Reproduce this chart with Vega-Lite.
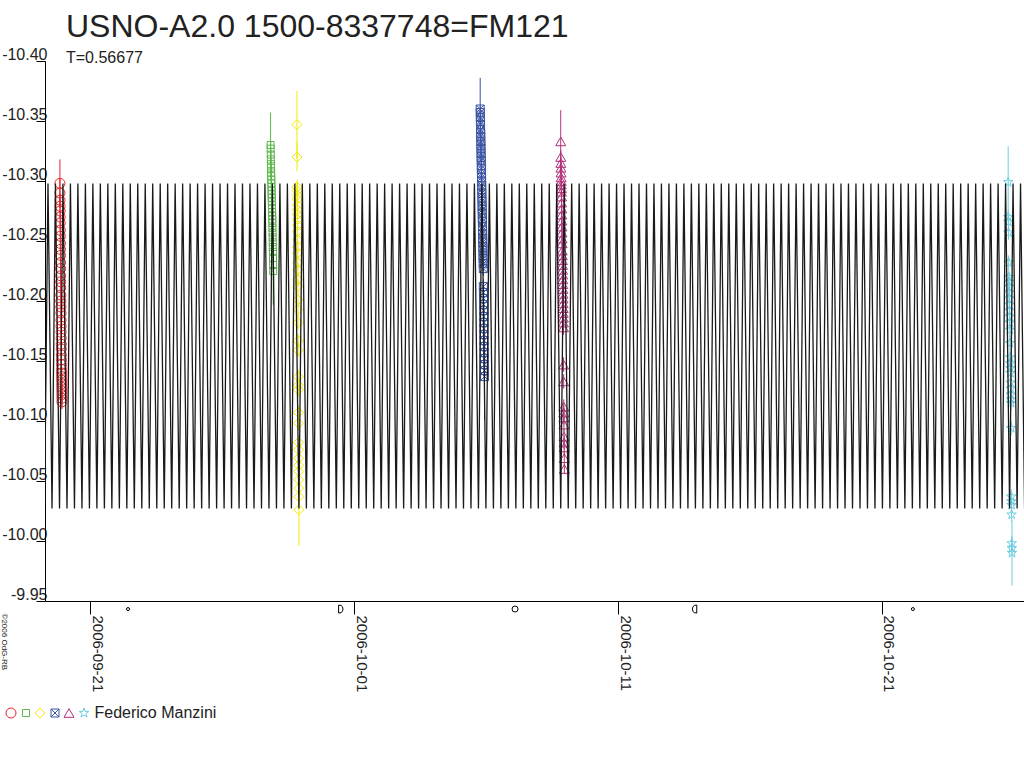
{
  "$schema": "https://vega.github.io/schema/vega-lite/v6.json",
  "width": 979,
  "height": 540,
  "autosize": {"type": "none"},
  "padding": {"left": 45, "top": 61, "right": 0, "bottom": 167},
  "background": "white",
  "title": {
    "text": "USNO-A2.0 1500-8337748=FM121",
    "subtitle": "T=0.56677",
    "anchor": "start",
    "frame": "group",
    "dx": 21,
    "offset": -21,
    "fontSize": 32,
    "fontWeight": "normal",
    "font": "Liberation Sans",
    "color": "#222",
    "subtitleFontSize": 16,
    "subtitleFont": "Liberation Sans",
    "subtitleColor": "#222",
    "subtitlePadding": 6
  },
  "datasets": {
    "obs": [
      {"s":"a","t":-1.640,"m":-10.298,"e":0.020},{"s":"a","t":-1.638,"m":-10.290,"e":0.012},{"s":"a","t":-1.636,"m":-10.284,"e":0.006},{"s":"a","t":-1.634,"m":-10.279,"e":0.006},
      {"s":"a","t":-1.632,"m":-10.275,"e":0.006},{"s":"a","t":-1.630,"m":-10.270,"e":0.006},{"s":"a","t":-1.628,"m":-10.265,"e":0.006},{"s":"a","t":-1.626,"m":-10.259,"e":0.006},
      {"s":"a","t":-1.624,"m":-10.254,"e":0.006},{"s":"a","t":-1.622,"m":-10.248,"e":0.006},{"s":"a","t":-1.620,"m":-10.243,"e":0.006},{"s":"a","t":-1.618,"m":-10.238,"e":0.006},
      {"s":"a","t":-1.616,"m":-10.232,"e":0.006},{"s":"a","t":-1.614,"m":-10.227,"e":0.006},{"s":"a","t":-1.612,"m":-10.221,"e":0.006},{"s":"a","t":-1.610,"m":-10.216,"e":0.006},
      {"s":"a","t":-1.608,"m":-10.211,"e":0.006},{"s":"a","t":-1.606,"m":-10.205,"e":0.006},{"s":"a","t":-1.604,"m":-10.200,"e":0.006},{"s":"a","t":-1.602,"m":-10.195,"e":0.006},
      {"s":"a","t":-1.600,"m":-10.190,"e":0.006},{"s":"a","t":-1.598,"m":-10.184,"e":0.006},{"s":"a","t":-1.596,"m":-10.179,"e":0.006},{"s":"a","t":-1.594,"m":-10.174,"e":0.006},
      {"s":"a","t":-1.592,"m":-10.169,"e":0.006},{"s":"a","t":-1.590,"m":-10.164,"e":0.006},{"s":"a","t":-1.588,"m":-10.160,"e":0.006},{"s":"a","t":-1.586,"m":-10.155,"e":0.006},
      {"s":"a","t":-1.584,"m":-10.151,"e":0.006},{"s":"a","t":-1.582,"m":-10.147,"e":0.006},{"s":"a","t":-1.580,"m":-10.143,"e":0.006},{"s":"a","t":-1.578,"m":-10.140,"e":0.006},
      {"s":"a","t":-1.576,"m":-10.137,"e":0.006},{"s":"a","t":-1.574,"m":-10.134,"e":0.006},{"s":"a","t":-1.572,"m":-10.131,"e":0.006},{"s":"a","t":-1.570,"m":-10.128,"e":0.006},
      {"s":"a","t":-1.568,"m":-10.125,"e":0.006},{"s":"a","t":-1.566,"m":-10.122,"e":0.006},{"s":"a","t":-1.564,"m":-10.119,"e":0.006},{"s":"a","t":-1.562,"m":-10.116,"e":0.006},

      {"s":"b","t":6.340,"m":-10.330,"e":0.027},{"s":"b","t":6.343,"m":-10.327,"e":0.006},{"s":"b","t":6.347,"m":-10.322,"e":0.006},{"s":"b","t":6.350,"m":-10.318,"e":0.006},
      {"s":"b","t":6.354,"m":-10.314,"e":0.006},{"s":"b","t":6.357,"m":-10.311,"e":0.006},{"s":"b","t":6.360,"m":-10.307,"e":0.006},{"s":"b","t":6.364,"m":-10.304,"e":0.006},
      {"s":"b","t":6.367,"m":-10.301,"e":0.006},{"s":"b","t":6.371,"m":-10.298,"e":0.006},{"s":"b","t":6.374,"m":-10.295,"e":0.006},{"s":"b","t":6.377,"m":-10.292,"e":0.006},
      {"s":"b","t":6.381,"m":-10.289,"e":0.006},{"s":"b","t":6.384,"m":-10.286,"e":0.006},{"s":"b","t":6.388,"m":-10.283,"e":0.006},{"s":"b","t":6.391,"m":-10.280,"e":0.006},
      {"s":"b","t":6.394,"m":-10.277,"e":0.006},{"s":"b","t":6.398,"m":-10.274,"e":0.006},{"s":"b","t":6.401,"m":-10.271,"e":0.006},{"s":"b","t":6.405,"m":-10.268,"e":0.006},
      {"s":"b","t":6.408,"m":-10.265,"e":0.006},{"s":"b","t":6.411,"m":-10.261,"e":0.006},{"s":"b","t":6.415,"m":-10.257,"e":0.006},{"s":"b","t":6.418,"m":-10.253,"e":0.006},
      {"s":"b","t":6.422,"m":-10.249,"e":0.006},{"s":"b","t":6.425,"m":-10.245,"e":0.006},{"s":"b","t":6.428,"m":-10.241,"e":0.006},{"s":"b","t":6.432,"m":-10.236,"e":0.006},
      {"s":"b","t":6.435,"m":-10.230,"e":0.006},{"s":"b","t":6.439,"m":-10.225,"e":0.028},

      {"s":"c","t":7.340,"m":-10.347,"e":0.028},{"s":"c","t":7.342,"m":-10.320,"e":0.012},{"s":"c","t":7.344,"m":-10.295,"e":0.006},{"s":"c","t":7.346,"m":-10.292,"e":0.006},
      {"s":"c","t":7.348,"m":-10.288,"e":0.006},{"s":"c","t":7.350,"m":-10.285,"e":0.006},{"s":"c","t":7.352,"m":-10.280,"e":0.006},{"s":"c","t":7.354,"m":-10.276,"e":0.006},
      {"s":"c","t":7.356,"m":-10.272,"e":0.006},{"s":"c","t":7.358,"m":-10.268,"e":0.006},{"s":"c","t":7.360,"m":-10.263,"e":0.006},{"s":"c","t":7.362,"m":-10.258,"e":0.006},
      {"s":"c","t":7.364,"m":-10.251,"e":0.006},{"s":"c","t":7.366,"m":-10.245,"e":0.006},{"s":"c","t":7.368,"m":-10.240,"e":0.006},{"s":"c","t":7.370,"m":-10.232,"e":0.006},
      {"s":"c","t":7.372,"m":-10.226,"e":0.006},{"s":"c","t":7.374,"m":-10.218,"e":0.006},{"s":"c","t":7.376,"m":-10.212,"e":0.006},{"s":"c","t":7.378,"m":-10.201,"e":0.006},
      {"s":"c","t":7.380,"m":-10.193,"e":0.006},{"s":"c","t":7.382,"m":-10.182,"e":0.006},{"s":"c","t":7.384,"m":-10.167,"e":0.006},{"s":"c","t":7.386,"m":-10.159,"e":0.006},
      {"s":"c","t":7.388,"m":-10.137,"e":0.006},{"s":"c","t":7.390,"m":-10.130,"e":0.006},{"s":"c","t":7.392,"m":-10.126,"e":0.006},{"s":"c","t":7.394,"m":-10.107,"e":0.006},
      {"s":"c","t":7.396,"m":-10.098,"e":0.006},{"s":"c","t":7.398,"m":-10.082,"e":0.006},{"s":"c","t":7.400,"m":-10.076,"e":0.006},{"s":"c","t":7.402,"m":-10.069,"e":0.006},
      {"s":"c","t":7.404,"m":-10.063,"e":0.006},{"s":"c","t":7.406,"m":-10.058,"e":0.006},{"s":"c","t":7.408,"m":-10.051,"e":0.006},{"s":"c","t":7.410,"m":-10.044,"e":0.006},
      {"s":"c","t":7.412,"m":-10.037,"e":0.006},{"s":"c","t":7.414,"m":-10.026,"e":0.030},

      {"s":"d","t":14.280,"m":-10.360,"e":0.026},{"s":"d","t":14.283,"m":-10.357,"e":0.006},{"s":"d","t":14.286,"m":-10.353,"e":0.006},{"s":"d","t":14.289,"m":-10.350,"e":0.006},
      {"s":"d","t":14.292,"m":-10.347,"e":0.006},{"s":"d","t":14.295,"m":-10.343,"e":0.006},{"s":"d","t":14.298,"m":-10.340,"e":0.006},{"s":"d","t":14.301,"m":-10.337,"e":0.006},
      {"s":"d","t":14.304,"m":-10.333,"e":0.006},{"s":"d","t":14.307,"m":-10.330,"e":0.006},{"s":"d","t":14.310,"m":-10.327,"e":0.006},{"s":"d","t":14.313,"m":-10.323,"e":0.006},
      {"s":"d","t":14.316,"m":-10.320,"e":0.006},{"s":"d","t":14.319,"m":-10.317,"e":0.006},{"s":"d","t":14.322,"m":-10.313,"e":0.006},{"s":"d","t":14.325,"m":-10.310,"e":0.006},
      {"s":"d","t":14.328,"m":-10.306,"e":0.006},{"s":"d","t":14.331,"m":-10.303,"e":0.006},{"s":"d","t":14.334,"m":-10.300,"e":0.006},{"s":"d","t":14.337,"m":-10.296,"e":0.006},
      {"s":"d","t":14.340,"m":-10.293,"e":0.006},{"s":"d","t":14.343,"m":-10.290,"e":0.006},{"s":"d","t":14.346,"m":-10.286,"e":0.006},{"s":"d","t":14.349,"m":-10.283,"e":0.006},
      {"s":"d","t":14.352,"m":-10.279,"e":0.006},{"s":"d","t":14.355,"m":-10.276,"e":0.006},{"s":"d","t":14.358,"m":-10.273,"e":0.006},{"s":"d","t":14.361,"m":-10.269,"e":0.006},
      {"s":"d","t":14.364,"m":-10.266,"e":0.006},{"s":"d","t":14.367,"m":-10.262,"e":0.006},{"s":"d","t":14.370,"m":-10.259,"e":0.006},{"s":"d","t":14.373,"m":-10.256,"e":0.006},
      {"s":"d","t":14.376,"m":-10.252,"e":0.006},{"s":"d","t":14.379,"m":-10.249,"e":0.006},{"s":"d","t":14.382,"m":-10.245,"e":0.006},{"s":"d","t":14.385,"m":-10.242,"e":0.006},
      {"s":"d","t":14.388,"m":-10.238,"e":0.006},{"s":"d","t":14.391,"m":-10.235,"e":0.006},{"s":"d","t":14.394,"m":-10.231,"e":0.006},{"s":"d","t":14.397,"m":-10.227,"e":0.006},
      {"s":"d","t":14.400,"m":-10.212,"e":0.006},{"s":"d","t":14.403,"m":-10.207,"e":0.006},{"s":"d","t":14.406,"m":-10.202,"e":0.006},{"s":"d","t":14.409,"m":-10.197,"e":0.006},
      {"s":"d","t":14.412,"m":-10.192,"e":0.006},{"s":"d","t":14.415,"m":-10.187,"e":0.006},{"s":"d","t":14.418,"m":-10.182,"e":0.006},{"s":"d","t":14.421,"m":-10.177,"e":0.006},
      {"s":"d","t":14.424,"m":-10.172,"e":0.006},{"s":"d","t":14.427,"m":-10.167,"e":0.006},{"s":"d","t":14.430,"m":-10.162,"e":0.006},{"s":"d","t":14.433,"m":-10.157,"e":0.006},
      {"s":"d","t":14.436,"m":-10.152,"e":0.006},{"s":"d","t":14.439,"m":-10.147,"e":0.006},{"s":"d","t":14.442,"m":-10.142,"e":0.006},{"s":"d","t":14.445,"m":-10.137,"e":0.036},

      {"s":"e","t":17.330,"m":-10.333,"e":0.026},{"s":"e","t":17.333,"m":-10.320,"e":0.006},{"s":"e","t":17.336,"m":-10.315,"e":0.006},{"s":"e","t":17.339,"m":-10.311,"e":0.006},
      {"s":"e","t":17.342,"m":-10.307,"e":0.006},{"s":"e","t":17.345,"m":-10.303,"e":0.006},{"s":"e","t":17.348,"m":-10.300,"e":0.006},{"s":"e","t":17.351,"m":-10.297,"e":0.006},
      {"s":"e","t":17.354,"m":-10.294,"e":0.006},{"s":"e","t":17.357,"m":-10.291,"e":0.006},{"s":"e","t":17.360,"m":-10.287,"e":0.006},{"s":"e","t":17.363,"m":-10.282,"e":0.006},
      {"s":"e","t":17.366,"m":-10.277,"e":0.006},{"s":"e","t":17.369,"m":-10.272,"e":0.006},{"s":"e","t":17.372,"m":-10.267,"e":0.006},{"s":"e","t":17.375,"m":-10.262,"e":0.006},
      {"s":"e","t":17.378,"m":-10.257,"e":0.006},{"s":"e","t":17.381,"m":-10.252,"e":0.006},{"s":"e","t":17.384,"m":-10.248,"e":0.006},{"s":"e","t":17.387,"m":-10.242,"e":0.006},
      {"s":"e","t":17.390,"m":-10.238,"e":0.006},{"s":"e","t":17.393,"m":-10.234,"e":0.006},{"s":"e","t":17.396,"m":-10.230,"e":0.006},{"s":"e","t":17.399,"m":-10.226,"e":0.006},
      {"s":"e","t":17.402,"m":-10.222,"e":0.006},{"s":"e","t":17.405,"m":-10.218,"e":0.006},{"s":"e","t":17.408,"m":-10.214,"e":0.006},{"s":"e","t":17.411,"m":-10.210,"e":0.006},
      {"s":"e","t":17.414,"m":-10.206,"e":0.006},{"s":"e","t":17.417,"m":-10.202,"e":0.006},{"s":"e","t":17.420,"m":-10.198,"e":0.006},{"s":"e","t":17.423,"m":-10.194,"e":0.006},
      {"s":"e","t":17.426,"m":-10.190,"e":0.006},{"s":"e","t":17.429,"m":-10.186,"e":0.006},{"s":"e","t":17.432,"m":-10.182,"e":0.006},{"s":"e","t":17.435,"m":-10.178,"e":0.006},
      {"s":"e","t":17.438,"m":-10.147,"e":0.006},{"s":"e","t":17.441,"m":-10.133,"e":0.006},{"s":"e","t":17.444,"m":-10.112,"e":0.006},{"s":"e","t":17.447,"m":-10.107,"e":0.006},
      {"s":"e","t":17.450,"m":-10.103,"e":0.006},{"s":"e","t":17.453,"m":-10.097,"e":0.006},{"s":"e","t":17.456,"m":-10.087,"e":0.006},{"s":"e","t":17.459,"m":-10.082,"e":0.006},
      {"s":"e","t":17.462,"m":-10.078,"e":0.006},{"s":"e","t":17.465,"m":-10.069,"e":0.006},{"s":"e","t":17.468,"m":-10.060,"e":0.004},

      {"s":"f","t":34.280,"m":-10.299,"e":0.030},{"s":"f","t":34.284,"m":-10.270,"e":0.006},{"s":"f","t":34.289,"m":-10.266,"e":0.006},{"s":"f","t":34.293,"m":-10.257,"e":0.006},
      {"s":"f","t":34.298,"m":-10.232,"e":0.006},{"s":"f","t":34.302,"m":-10.220,"e":0.006},{"s":"f","t":34.307,"m":-10.216,"e":0.006},{"s":"f","t":34.311,"m":-10.212,"e":0.006},
      {"s":"f","t":34.316,"m":-10.207,"e":0.006},{"s":"f","t":34.320,"m":-10.202,"e":0.006},{"s":"f","t":34.325,"m":-10.197,"e":0.006},{"s":"f","t":34.329,"m":-10.192,"e":0.006},
      {"s":"f","t":34.334,"m":-10.187,"e":0.006},{"s":"f","t":34.338,"m":-10.182,"e":0.006},{"s":"f","t":34.343,"m":-10.176,"e":0.006},{"s":"f","t":34.347,"m":-10.165,"e":0.006},
      {"s":"f","t":34.352,"m":-10.153,"e":0.006},{"s":"f","t":34.356,"m":-10.148,"e":0.006},{"s":"f","t":34.361,"m":-10.144,"e":0.006},{"s":"f","t":34.365,"m":-10.140,"e":0.006},
      {"s":"f","t":34.370,"m":-10.132,"e":0.006},{"s":"f","t":34.374,"m":-10.127,"e":0.006},{"s":"f","t":34.379,"m":-10.122,"e":0.006},{"s":"f","t":34.383,"m":-10.118,"e":0.006},
      {"s":"f","t":34.388,"m":-10.115,"e":0.006},{"s":"f","t":34.392,"m":-10.094,"e":0.006},{"s":"f","t":34.397,"m":-10.037,"e":0.006},{"s":"f","t":34.401,"m":-10.033,"e":0.006},
      {"s":"f","t":34.406,"m":-10.030,"e":0.006},{"s":"f","t":34.410,"m":-10.022,"e":0.006},{"s":"f","t":34.415,"m":-9.998,"e":0.006},{"s":"f","t":34.419,"m":-9.994,"e":0.006},
      {"s":"f","t":34.424,"m":-9.990,"e":0.027}
    ],
    "model": [
      {"t":-2.222,"m":-10.027},{"t":-2.092,"m":-10.298},{"t":-1.939,"m":-10.027},{"t":-1.809,"m":-10.298},
      {"t":-1.655,"m":-10.027},{"t":-1.525,"m":-10.298},{"t":-1.372,"m":-10.027},{"t":-1.242,"m":-10.298},
      {"t":-1.089,"m":-10.027},{"t":-0.959,"m":-10.298},{"t":-0.805,"m":-10.027},{"t":-0.675,"m":-10.298},
      {"t":-0.522,"m":-10.027},{"t":-0.392,"m":-10.298},{"t":-0.239,"m":-10.027},{"t":-0.109,"m":-10.298},
      {"t":0.045,"m":-10.027},{"t":0.175,"m":-10.298},{"t":0.328,"m":-10.027},{"t":0.458,"m":-10.298},
      {"t":0.612,"m":-10.027},{"t":0.742,"m":-10.298},{"t":0.895,"m":-10.027},{"t":1.025,"m":-10.298},
      {"t":1.178,"m":-10.027},{"t":1.308,"m":-10.298},{"t":1.462,"m":-10.027},{"t":1.592,"m":-10.298},
      {"t":1.745,"m":-10.027},{"t":1.875,"m":-10.298},{"t":2.029,"m":-10.027},{"t":2.159,"m":-10.298},
      {"t":2.312,"m":-10.027},{"t":2.442,"m":-10.298},{"t":2.595,"m":-10.027},{"t":2.725,"m":-10.298},
      {"t":2.879,"m":-10.027},{"t":3.009,"m":-10.298},{"t":3.162,"m":-10.027},{"t":3.292,"m":-10.298},
      {"t":3.445,"m":-10.027},{"t":3.575,"m":-10.298},{"t":3.729,"m":-10.027},{"t":3.859,"m":-10.298},
      {"t":4.012,"m":-10.027},{"t":4.142,"m":-10.298},{"t":4.296,"m":-10.027},{"t":4.426,"m":-10.298},
      {"t":4.579,"m":-10.027},{"t":4.709,"m":-10.298},{"t":4.862,"m":-10.027},{"t":4.992,"m":-10.298},
      {"t":5.146,"m":-10.027},{"t":5.276,"m":-10.298},{"t":5.429,"m":-10.027},{"t":5.559,"m":-10.298},
      {"t":5.713,"m":-10.027},{"t":5.843,"m":-10.298},{"t":5.996,"m":-10.027},{"t":6.126,"m":-10.298},
      {"t":6.279,"m":-10.027},{"t":6.409,"m":-10.298},{"t":6.563,"m":-10.027},{"t":6.693,"m":-10.298},
      {"t":6.846,"m":-10.027},{"t":6.976,"m":-10.298},{"t":7.129,"m":-10.027},{"t":7.259,"m":-10.298},
      {"t":7.413,"m":-10.027},{"t":7.543,"m":-10.298},{"t":7.696,"m":-10.027},{"t":7.826,"m":-10.298},
      {"t":7.980,"m":-10.027},{"t":8.110,"m":-10.298},{"t":8.263,"m":-10.027},{"t":8.393,"m":-10.298},
      {"t":8.546,"m":-10.027},{"t":8.676,"m":-10.298},{"t":8.830,"m":-10.027},{"t":8.960,"m":-10.298},
      {"t":9.113,"m":-10.027},{"t":9.243,"m":-10.298},{"t":9.397,"m":-10.027},{"t":9.527,"m":-10.298},
      {"t":9.680,"m":-10.027},{"t":9.810,"m":-10.298},{"t":9.963,"m":-10.027},{"t":10.093,"m":-10.298},
      {"t":10.247,"m":-10.027},{"t":10.377,"m":-10.298},{"t":10.530,"m":-10.027},{"t":10.660,"m":-10.298},
      {"t":10.813,"m":-10.027},{"t":10.943,"m":-10.298},{"t":11.097,"m":-10.027},{"t":11.227,"m":-10.298},
      {"t":11.380,"m":-10.027},{"t":11.510,"m":-10.298},{"t":11.664,"m":-10.027},{"t":11.794,"m":-10.298},
      {"t":11.947,"m":-10.027},{"t":12.077,"m":-10.298},{"t":12.230,"m":-10.027},{"t":12.360,"m":-10.298},
      {"t":12.514,"m":-10.027},{"t":12.644,"m":-10.298},{"t":12.797,"m":-10.027},{"t":12.927,"m":-10.298},
      {"t":13.081,"m":-10.027},{"t":13.211,"m":-10.298},{"t":13.364,"m":-10.027},{"t":13.494,"m":-10.298},
      {"t":13.647,"m":-10.027},{"t":13.777,"m":-10.298},{"t":13.931,"m":-10.027},{"t":14.061,"m":-10.298},
      {"t":14.214,"m":-10.027},{"t":14.344,"m":-10.298},{"t":14.497,"m":-10.027},{"t":14.627,"m":-10.298},
      {"t":14.781,"m":-10.027},{"t":14.911,"m":-10.298},{"t":15.064,"m":-10.027},{"t":15.194,"m":-10.298},
      {"t":15.348,"m":-10.027},{"t":15.478,"m":-10.298},{"t":15.631,"m":-10.027},{"t":15.761,"m":-10.298},
      {"t":15.914,"m":-10.027},{"t":16.044,"m":-10.298},{"t":16.198,"m":-10.027},{"t":16.328,"m":-10.298},
      {"t":16.481,"m":-10.027},{"t":16.611,"m":-10.298},{"t":16.765,"m":-10.027},{"t":16.895,"m":-10.298},
      {"t":17.048,"m":-10.027},{"t":17.178,"m":-10.298},{"t":17.331,"m":-10.027},{"t":17.461,"m":-10.298},
      {"t":17.615,"m":-10.027},{"t":17.745,"m":-10.298},{"t":17.898,"m":-10.027},{"t":18.028,"m":-10.298},
      {"t":18.181,"m":-10.027},{"t":18.311,"m":-10.298},{"t":18.465,"m":-10.027},{"t":18.595,"m":-10.298},
      {"t":18.748,"m":-10.027},{"t":18.878,"m":-10.298},{"t":19.032,"m":-10.027},{"t":19.162,"m":-10.298},
      {"t":19.315,"m":-10.027},{"t":19.445,"m":-10.298},{"t":19.598,"m":-10.027},{"t":19.728,"m":-10.298},
      {"t":19.882,"m":-10.027},{"t":20.012,"m":-10.298},{"t":20.165,"m":-10.027},{"t":20.295,"m":-10.298},
      {"t":20.449,"m":-10.027},{"t":20.579,"m":-10.298},{"t":20.732,"m":-10.027},{"t":20.862,"m":-10.298},
      {"t":21.015,"m":-10.027},{"t":21.145,"m":-10.298},{"t":21.299,"m":-10.027},{"t":21.429,"m":-10.298},
      {"t":21.582,"m":-10.027},{"t":21.712,"m":-10.298},{"t":21.866,"m":-10.027},{"t":21.996,"m":-10.298},
      {"t":22.149,"m":-10.027},{"t":22.279,"m":-10.298},{"t":22.432,"m":-10.027},{"t":22.562,"m":-10.298},
      {"t":22.716,"m":-10.027},{"t":22.846,"m":-10.298},{"t":22.999,"m":-10.027},{"t":23.129,"m":-10.298},
      {"t":23.282,"m":-10.027},{"t":23.412,"m":-10.298},{"t":23.566,"m":-10.027},{"t":23.696,"m":-10.298},
      {"t":23.849,"m":-10.027},{"t":23.979,"m":-10.298},{"t":24.133,"m":-10.027},{"t":24.263,"m":-10.298},
      {"t":24.416,"m":-10.027},{"t":24.546,"m":-10.298},{"t":24.699,"m":-10.027},{"t":24.829,"m":-10.298},
      {"t":24.983,"m":-10.027},{"t":25.113,"m":-10.298},{"t":25.266,"m":-10.027},{"t":25.396,"m":-10.298},
      {"t":25.550,"m":-10.027},{"t":25.680,"m":-10.298},{"t":25.833,"m":-10.027},{"t":25.963,"m":-10.298},
      {"t":26.116,"m":-10.027},{"t":26.246,"m":-10.298},{"t":26.400,"m":-10.027},{"t":26.530,"m":-10.298},
      {"t":26.683,"m":-10.027},{"t":26.813,"m":-10.298},{"t":26.966,"m":-10.027},{"t":27.096,"m":-10.298},
      {"t":27.250,"m":-10.027},{"t":27.380,"m":-10.298},{"t":27.533,"m":-10.027},{"t":27.663,"m":-10.298},
      {"t":27.817,"m":-10.027},{"t":27.947,"m":-10.298},{"t":28.100,"m":-10.027},{"t":28.230,"m":-10.298},
      {"t":28.383,"m":-10.027},{"t":28.513,"m":-10.298},{"t":28.667,"m":-10.027},{"t":28.797,"m":-10.298},
      {"t":28.950,"m":-10.027},{"t":29.080,"m":-10.298},{"t":29.234,"m":-10.027},{"t":29.364,"m":-10.298},
      {"t":29.517,"m":-10.027},{"t":29.647,"m":-10.298},{"t":29.800,"m":-10.027},{"t":29.930,"m":-10.298},
      {"t":30.084,"m":-10.027},{"t":30.214,"m":-10.298},{"t":30.367,"m":-10.027},{"t":30.497,"m":-10.298},
      {"t":30.650,"m":-10.027},{"t":30.780,"m":-10.298},{"t":30.934,"m":-10.027},{"t":31.064,"m":-10.298},
      {"t":31.217,"m":-10.027},{"t":31.347,"m":-10.298},{"t":31.501,"m":-10.027},{"t":31.631,"m":-10.298},
      {"t":31.784,"m":-10.027},{"t":31.914,"m":-10.298},{"t":32.067,"m":-10.027},{"t":32.197,"m":-10.298},
      {"t":32.351,"m":-10.027},{"t":32.481,"m":-10.298},{"t":32.634,"m":-10.027},{"t":32.764,"m":-10.298},
      {"t":32.918,"m":-10.027},{"t":33.048,"m":-10.298},{"t":33.201,"m":-10.027},{"t":33.331,"m":-10.298},
      {"t":33.484,"m":-10.027},{"t":33.614,"m":-10.298},{"t":33.768,"m":-10.027},{"t":33.898,"m":-10.298},
      {"t":34.051,"m":-10.027},{"t":34.181,"m":-10.298},{"t":34.334,"m":-10.027},{"t":34.464,"m":-10.298},
      {"t":34.618,"m":-10.027},{"t":34.748,"m":-10.298},{"t":34.901,"m":-10.027}
    ],
    "moon": [
      {"t":0.94,"p":"new","m":-9.9433},{"t":9.0,"p":"first","m":-9.9433},{"t":15.6,"p":"full","m":-9.9433},{"t":22.4,"p":"last","m":-9.9433},{"t":30.67,"p":"new","m":-9.9433}
    ]
  },
  "encoding": {
    "x": {
      "field": "t",
      "type": "quantitative",
      "scale": {"domain": [-2.205, 34.879], "nice": false, "zero": false},
      "axis": {
        "title": "Federico Manzini",
        "titleX": 49,
        "titleY": 111,
        "titleAlign": "left",
        "titleBaseline": "middle",
        "titleAngle": 0,
        "titleFontSize": 16,
        "titleFontWeight": "normal",
        "titleColor": "#222",
        "values": [-0.5, 9.5, 19.5, 29.5],
        "labelExpr": "utcFormat(1158796800000 + (datum.value + 0.5) * 86400000, '%Y-%m-%d')",
        "labelAngle": 90,
        "labelAlign": "left",
        "labelBaseline": "alphabetic",
        "labelOffset": 2,
        "labelPadding": 1,
        "labelFontSize": 15,
        "labelColor": "#222",
        "labelFlush": false,
        "labelOverlap": false,
        "tickSize": 13,
        "tickColor": "#000",
        "domainColor": "#000",
        "grid": false
      }
    },
    "y": {
      "field": "m",
      "type": "quantitative",
      "scale": {"domain": [-10.4, -9.95], "reverse": true, "nice": false, "zero": false},
      "axis": {
        "title": "©2006 OdG-RB",
        "titleAngle": 90,
        "titleX": -44,
        "titleY": 552,
        "titleAlign": "left",
        "titleBaseline": "alphabetic",
        "titleFontSize": 8,
        "titleFontWeight": "normal",
        "titleColor": "#222",
        "values": [-10.4, -10.35, -10.3, -10.25, -10.2, -10.15, -10.1, -10.05, -10, -9.95],
        "labelExpr": "replace(format(datum.value, '.2f'), '\u2212', '-')",
        "labelAlign": "right",
        "labelBaseline": "alphabetic",
        "labelPadding": -11,
        "labelOffset": -2,
        "labelFontSize": 16,
        "labelColor": "#222",
        "labelFlush": false,
        "labelOverlap": false,
        "tickSize": 9,
        "tickColor": "#000",
        "domainColor": "#000",
        "grid": false
      }
    }
  },
  "layer": [
    {
      "data": {"name": "obs"},
      "mark": {"type": "point", "filled": false, "strokeWidth": 1, "opacity": 1, "size": 100},
      "encoding": {
        "color": {
          "field": "s",
          "type": "nominal",
          "scale": {"domain": ["a", "b", "c", "d", "e", "f"], "range": ["#e8262b", "#5cb84c", "#f2ea00", "#3b54a3", "#b3317b", "#6ccde0"]},
          "legend": {
            "orient": "none",
            "legendX": -42,
            "legendY": 644,
            "direction": "horizontal",
            "title": null,
            "labelExpr": "''",
            "labelFontSize": 16,
            "labelOffset": -4,
            "columnPadding": 0,
            "symbolStrokeWidth": 1,
            "symbolSize": 100,
            "padding": 0
          }
        },
        "shape": {
          "field": "s",
          "type": "nominal",
          "scale": {
            "domain": ["a", "b", "c", "d", "e", "f"],
            "range": [
              "circle",
              "M-0.7,-0.7L0.7,-0.7L0.7,0.7L-0.7,0.7Z",
              "diamond",
              "M-0.8,-0.8L0.8,-0.8L0.8,0.8L-0.8,0.8Z M-0.8,-0.8L0.8,0.8 M0.8,-0.8L-0.8,0.8",
              "triangle-up",
              "M0,-1L0.235,-0.324L0.951,-0.309L0.38,0.124L0.588,0.809L0,0.4L-0.588,0.809L-0.38,0.124L-0.951,-0.309L-0.235,-0.324Z"
            ]
          }
        }
      }
    },
    {
      "data": {"name": "obs"},
      "mark": {"type": "errorbar", "thickness": 1},
      "encoding": {
        "yError": {"field": "e"},
        "color": {"field": "s", "type": "nominal", "legend": null}
      }
    },
    {
      "data": {"name": "model"},
      "mark": {"type": "line", "color": "#1a1a1a", "strokeWidth": 1.3, "clip": true},
      "encoding": {}
    },
    {
      "data": {"name": "moon"},
      "transform": [{"filter": "datum.p == 'new'"}],
      "mark": {"type": "point", "shape": "circle", "filled": false, "color": "#000", "strokeWidth": 1, "opacity": 1, "size": 9},
      "encoding": {}
    },
    {
      "data": {"name": "moon"},
      "transform": [{"filter": "datum.p == 'first'"}],
      "mark": {"type": "point", "shape": "M-0.55,-1L0.05,-0.9L0.4,-0.6L0.55,0L0.4,0.6L0.05,0.9L-0.55,1Z", "filled": false, "color": "#000", "strokeWidth": 1, "opacity": 1, "size": 64},
      "encoding": {}
    },
    {
      "data": {"name": "moon"},
      "transform": [{"filter": "datum.p == 'full'"}],
      "mark": {"type": "point", "shape": "circle", "filled": false, "color": "#000", "strokeWidth": 1, "opacity": 1, "size": 36},
      "encoding": {}
    },
    {
      "data": {"name": "moon"},
      "transform": [{"filter": "datum.p == 'last'"}],
      "mark": {"type": "point", "shape": "M0.55,-1L-0.05,-0.9L-0.4,-0.6L-0.55,0L-0.4,0.6L-0.05,0.9L0.55,1Z", "filled": false, "color": "#000", "strokeWidth": 1, "opacity": 1, "size": 64},
      "encoding": {}
    }
  ],
  "config": {
    "font": "Liberation Sans",
    "view": {"stroke": null},
    "axis": {"domainWidth": 1, "tickWidth": 1}
  }
}
